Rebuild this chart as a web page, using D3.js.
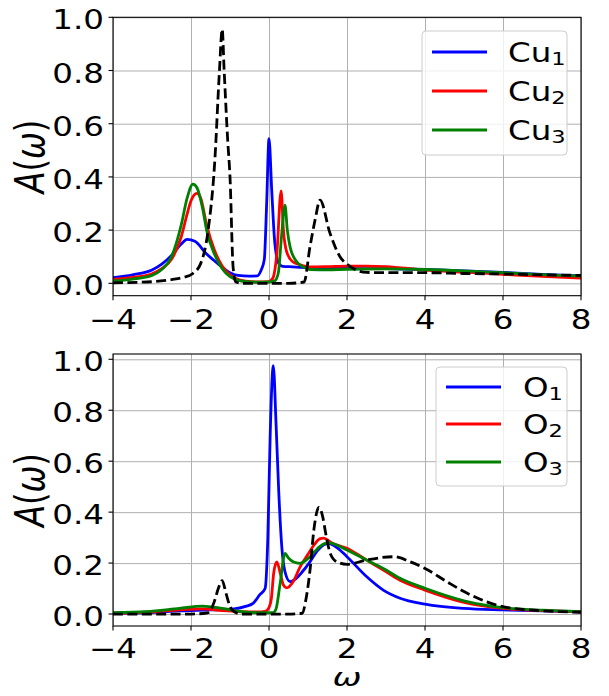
<!DOCTYPE html>
<html>
<head>
<meta charset="utf-8">
<script src="https://cdn.jsdelivr.net/npm/d3@7"></script>
<style>
  html, body { margin: 0; padding: 0; background: #fff; }
  svg { display: block; font-family: "DejaVu Sans", sans-serif; }
</style>
</head>
<body>
<div id="chart"></div>
<script>
// omega / A(omega) pairs
const cu1 = [[-4,0.021],[-3.5,0.032],[-3,0.05],[-2.75,0.072],[-2.5,0.105],[-2.25,0.148],[-2.1,0.165],[-1.9,0.158],[-1.6,0.11],[-1.4,0.085],[-1.2,0.06],[-1.0,0.04],[-0.8,0.03],[-0.5,0.027],[-0.3,0.028],[-0.2,0.05],[-0.12,0.09],[-0.06,0.3],[0.0,0.544],[0.07,0.35],[0.15,0.15],[0.25,0.075],[0.35,0.064],[0.6,0.062],[1.0,0.059],[1.5,0.057],[2,0.056],[3,0.055],[4,0.052],[5,0.047],[6,0.041],[7,0.034],[8,0.028]];
const cu2 = [[-4,0.015],[-3.5,0.022],[-3,0.036],[-2.75,0.055],[-2.5,0.09],[-2.25,0.175],[-2.1,0.26],[-2,0.31],[-1.85,0.338],[-1.75,0.32],[-1.6,0.22],[-1.4,0.125],[-1.2,0.065],[-1.0,0.031],[-0.8,0.015],[-0.6,0.008],[-0.3,0.005],[0,0.006],[0.1,0.02],[0.2,0.11],[0.31,0.347],[0.37,0.2],[0.45,0.12],[0.6,0.082],[0.8,0.07],[1.05,0.062],[1.5,0.063],[2,0.065],[2.5,0.065],[3,0.063],[4,0.05],[5,0.042],[6,0.034],[7,0.026],[8,0.02]];
const cu3 = [[-4,0.009],[-3.5,0.016],[-3,0.03],[-2.75,0.052],[-2.5,0.1],[-2.25,0.22],[-2.1,0.32],[-1.95,0.373],[-1.85,0.36],[-1.7,0.28],[-1.6,0.2],[-1.4,0.11],[-1.2,0.055],[-1.0,0.025],[-0.8,0.012],[-0.6,0.006],[-0.3,0.004],[0,0.005],[0.15,0.01],[0.24,0.04],[0.32,0.175],[0.41,0.294],[0.47,0.2],[0.54,0.137],[0.71,0.081],[0.9,0.06],[1.05,0.052],[1.5,0.051],[2,0.053],[3,0.054],[4,0.052],[5,0.047],[6,0.04],[7,0.033],[8,0.027]];
const cuRef = [[-4,0.002],[-3,0.006],[-2.5,0.014],[-2.2,0.022],[-1.95,0.037],[-1.75,0.075],[-1.56,0.2],[-1.39,0.46],[-1.27,0.8],[-1.2,0.955],[-1.15,0.8],[-1.06,0.54],[-1.0,0.4],[-0.92,0.06],[-0.85,0.005],[-0.7,0.0],[0.5,0.0],[0.9,0.005],[1.05,0.137],[1.18,0.237],[1.31,0.313],[1.56,0.19],[1.82,0.1],[2.03,0.069],[2.5,0.041],[3,0.04],[4,0.04],[5,0.037],[6,0.035],[7,0.032],[8,0.03]];

const o1 = [[-4,0.003],[-3,0.006],[-2.3,0.012],[-1.5,0.016],[-0.9,0.02],[-0.6,0.03],[-0.4,0.043],[-0.24,0.075],[-0.1,0.1],[-0.03,0.3],[0.03,0.7],[0.11,0.975],[0.18,0.75],[0.25,0.48],[0.33,0.26],[0.41,0.166],[0.54,0.127],[0.7,0.14],[0.85,0.165],[1.05,0.205],[1.25,0.25],[1.52,0.277],[1.75,0.26],[2,0.225],[2.5,0.147],[2.93,0.094],[3.36,0.062],[4,0.039],[5,0.022],[6,0.016],[7,0.012],[8,0.009]];
const o2 = [[-4,0.003],[-3,0.008],[-2.3,0.016],[-1.7,0.02],[-1.2,0.013],[-0.7,0.009],[-0.3,0.008],[-0.1,0.01],[0.0,0.025],[0.06,0.06],[0.12,0.16],[0.2,0.205],[0.28,0.166],[0.37,0.114],[0.45,0.103],[0.62,0.127],[0.8,0.186],[1.0,0.235],[1.15,0.27],[1.3,0.295],[1.4,0.298],[1.6,0.28],[2,0.258],[2.5,0.212],[2.93,0.173],[3.36,0.133],[4,0.094],[5,0.046],[6,0.022],[7,0.013],[8,0.009]];
const o3 = [[-4,0.005],[-3.15,0.009],[-2.3,0.022],[-1.7,0.031],[-1.2,0.022],[-0.7,0.009],[-0.3,0.005],[0.1,0.005],[0.18,0.02],[0.28,0.114],[0.41,0.238],[0.5,0.22],[0.62,0.205],[0.79,0.199],[1.05,0.225],[1.3,0.265],[1.52,0.28],[1.75,0.27],[2,0.251],[2.5,0.212],[2.93,0.179],[3.36,0.14],[4,0.101],[5,0.052],[6,0.025],[7,0.015],[8,0.009]];
const oRef = [[-4,0.0],[-2,0.0],[-1.6,0.004],[-1.52,0.01],[-1.4,0.05],[-1.3,0.1],[-1.2,0.131],[-1.1,0.08],[-1.0,0.03],[-0.88,0.008],[-0.7,0.0],[0.5,0.0],[0.85,0.003],[0.95,0.06],[1.05,0.17],[1.15,0.33],[1.28,0.419],[1.38,0.38],[1.45,0.32],[1.57,0.238],[1.74,0.205],[2,0.195],[2.5,0.212],[3.2,0.225],[3.62,0.205],[4,0.179],[4.56,0.127],[5,0.088],[5.58,0.048],[6,0.029],[7,0.013],[8,0.007]];

const xTicks = [-4, -2, 0, 2, 4, 6, 8];
const yTicks = [0, 0.2, 0.4, 0.6, 0.8, 1.0];
const seriesColors = ["#0000ff", "#ff0000", "#008000"];
const cuNames = ["Cu", "Cu", "Cu"];
const oNames = ["O", "O", "O"];
const subs = ["1", "2", "3"];

const W = 609, H = 696;
const SX = 1.25;      // the picture's text is stretched sideways
const FS = 26;

const svg = d3.select("#chart")
              .append("svg")
              .attr("width", W)
              .attr("height", H);

const addText = (g, x, y, str, anchor, size, italic, sx = SX) => {
  return g.append("text")
          .attr("transform", `translate(${x},${y}) scale(${sx},1)`)
          .attr("text-anchor", anchor)
          .attr("font-size", size)
          .attr("font-style", italic ? "italic" : "normal")
          .attr("fill", "#000")
          .text(str);
};

const panel = (opts) => {
  const { top, bottom, yDomain, lines, ref, names, legend, tickBase, id } = opts;
  const x = d3.scaleLinear().domain([-4, 8]).range([113, 581]);
  const y = d3.scaleLinear().domain(yDomain).range([bottom, top]);
  const g = svg.append("g");

  g.append("clipPath").attr("id", id)
    .append("rect")
    .attr("x", 113).attr("y", top)
    .attr("width", 468).attr("height", bottom - top);

  // grid
  g.append("g")
    .attr("transform", `translate(0,${bottom})`)
    .call(d3.axisBottom(x).tickValues(xTicks).tickSize(-(bottom - top)).tickFormat(""))
    .call(s => s.select(".domain").remove())
    .call(s => s.selectAll("line").attr("stroke", "#b0b0b0").attr("stroke-width", 1));
  g.append("g")
    .attr("transform", "translate(113,0)")
    .call(d3.axisLeft(y).tickValues(yTicks).tickSize(-468).tickFormat(""))
    .call(s => s.select(".domain").remove())
    .call(s => s.selectAll("line").attr("stroke", "#b0b0b0").attr("stroke-width", 1));

  const line = d3.line()
                 .x(d => x(d[0]))
                 .y(d => y(d[1]))
                 .curve(d3.curveMonotoneX);
  const plot = g.append("g").attr("clip-path", `url(#${id})`);

  lines.forEach((data, i) => {
    plot.append("path")
      .datum(data)
      .attr("d", line)
      .attr("fill", "none")
      .attr("stroke", seriesColors[i])
      .attr("stroke-width", 2.8)
      .attr("stroke-linejoin", "round");
  });
  plot.append("path")
    .datum(ref)
    .attr("d", line)
    .attr("fill", "none")
    .attr("stroke", "#000")
    .attr("stroke-width", 2.8)
    .attr("stroke-dasharray", "10,4.4");

  // spines + ticks
  g.append("rect")
    .attr("x", 113).attr("y", top)
    .attr("width", 468).attr("height", bottom - top)
    .attr("fill", "none").attr("stroke", "#000").attr("stroke-width", 1.1);

  xTicks.forEach(t => {
    g.append("line")
      .attr("x1", x(t)).attr("x2", x(t))
      .attr("y1", bottom).attr("y2", bottom + 4.5)
      .attr("stroke", "#000").attr("stroke-width", 1.1);
    addText(g, x(t), tickBase, t < 0 ? "\u2212" + Math.abs(t) : String(t), "middle", FS);
  });
  yTicks.forEach(t => {
    g.append("line")
      .attr("x1", 113).attr("x2", 108.5)
      .attr("y1", y(t)).attr("y2", y(t))
      .attr("stroke", "#000").attr("stroke-width", 1.1);
    addText(g, 104, y(t) + 12, t.toFixed(1), "end", FS);
  });

  // y label
  const yl = g.append("text")
              .attr("transform", `translate(44,${(top + bottom) / 2}) rotate(-90) scale(1,${SX})`)
              .attr("text-anchor", "middle")
              .attr("font-size", 32);
  yl.append("tspan").attr("font-style", "italic").text("A");
  yl.append("tspan").text("(");
  yl.append("tspan").attr("font-style", "italic").text("\u03c9");
  yl.append("tspan").text(")");

  // legend
  const L = legend;
  g.append("rect")
    .attr("x", L.x0).attr("y", L.y0)
    .attr("width", L.x1 - L.x0).attr("height", L.y1 - L.y0)
    .attr("rx", 4)
    .attr("fill", "#fff").attr("fill-opacity", 0.8)
    .attr("stroke", "#cccccc").attr("stroke-width", 1);
  names.forEach((n, i) => {
    const ly = L.rows[i];
    g.append("line")
      .attr("x1", L.lx0).attr("x2", L.lx1)
      .attr("y1", ly).attr("y2", ly)
      .attr("stroke", seriesColors[i]).attr("stroke-width", 2.8);
    const t = addText(g, L.tx, ly + 9.5, "", "start", FS);
    t.append("tspan").text(n);
    t.append("tspan").attr("font-size", 18).attr("dy", 3).text(subs[i]);
  });
};

panel({
  id: "clipTop", top: 17.3, bottom: 295.7, yDomain: [-0.0465, 1.0],
  lines: [cu1, cu2, cu3], ref: cuRef, names: cuNames, tickBase: 328.5,
  legend: { x0: 422, x1: 567, y0: 31, y1: 155, lx0: 432, lx1: 487, tx: 508, rows: [52, 91, 130] }
});
panel({
  id: "clipBot", top: 354, bottom: 626, yDomain: [-0.047, 1.0208],
  lines: [o1, o2, o3], ref: oRef, names: oNames, tickBase: 657.5,
  legend: { x0: 436, x1: 567, y0: 367, y1: 486, lx0: 446, lx1: 501, tx: 523, rows: [387, 424, 462] }
});

addText(svg, 347, 686, "\u03c9", "middle", 24, true, 1.45);
</script>
</body>
</html>
